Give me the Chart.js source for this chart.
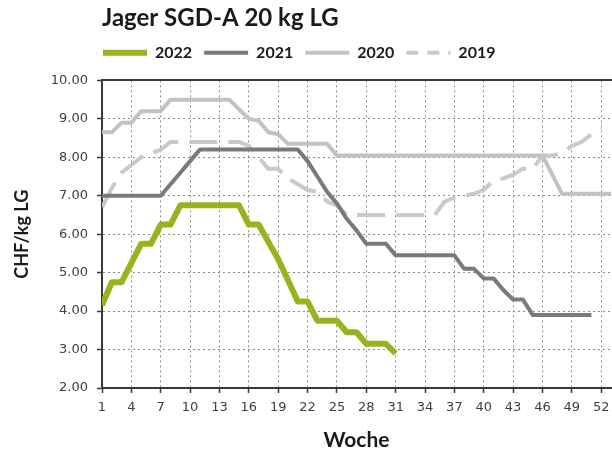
<!DOCTYPE html>
<html lang="de">
<head>
  <meta charset="UTF-8">
  <title>Jager SGD-A 20 kg LG</title>
  <script src="https://cdn.jsdelivr.net/npm/chart.js"></script>
  <style>
    html, body {
      margin: 0;
      padding: 0;
      background: #ffffff;
    }

    .chart-box {
      width: 612px;
      height: 457px;
    }
  </style>
</head>
<body>

  <div class="chart-box">
    <canvas id="preisChart"></canvas>
  </div>

  <script>
    // Kalenderwochen (2020 hatte 53 Wochen)
    const weeks = [1, 2, 3, 4, 5, 6, 7, 8, 9, 10, 11, 12, 13, 14, 15, 16, 17, 18, 19, 20,
      21, 22, 23, 24, 25, 26, 27, 28, 29, 30, 31, 32, 33, 34, 35, 36, 37, 38, 39, 40,
      41, 42, 43, 44, 45, 46, 47, 48, 49, 50, 51, 52, 53];
    const xTicks = [1, 4, 7, 10, 13, 16, 19, 22, 25, 28, 31, 34, 37, 40, 43, 46, 49, 52];
    const yTicks = [2, 3, 4, 5, 6, 7, 8, 9, 10];

    const jahre = ['2022', '2021', '2020', '2019'];

    // CHF/kg LG pro Woche
    const preis2022 = [4.15, 4.75, 4.75, 5.25, 5.75, 5.75, 6.25, 6.25, 6.75, 6.75,
      6.75, 6.75, 6.75, 6.75, 6.75, 6.25, 6.25, 5.8, 5.35, 4.8,
      4.25, 4.25, 3.75, 3.75, 3.75, 3.45, 3.45, 3.15, 3.15, 3.15,
      2.9];
    const preis2021 = [7.0, 7.0, 7.0, 7.0, 7.0, 7.0, 7.0, 7.3, 7.6, 7.9,
      8.2, 8.2, 8.2, 8.2, 8.2, 8.2, 8.2, 8.2, 8.2, 8.2,
      8.2, 7.9, 7.5, 7.1, 6.8, 6.4, 6.1, 5.75, 5.75, 5.75,
      5.45, 5.45, 5.45, 5.45, 5.45, 5.45, 5.45, 5.1, 5.1, 4.85,
      4.85, 4.55, 4.3, 4.3, 3.9, 3.9, 3.9, 3.9, 3.9, 3.9,
      3.9];
    const preis2020 = [8.65, 8.65, 8.9, 8.9, 9.2, 9.2, 9.2, 9.5, 9.5, 9.5,
      9.5, 9.5, 9.5, 9.5, 9.25, 9.0, 8.95, 8.65, 8.6, 8.35,
      8.35, 8.35, 8.35, 8.35, 8.05, 8.05, 8.05, 8.05, 8.05, 8.05,
      8.05, 8.05, 8.05, 8.05, 8.05, 8.05, 8.05, 8.05, 8.05, 8.05,
      8.05, 8.05, 8.05, 8.05, 8.05, 8.05, 7.55, 7.05, 7.05, 7.05,
      7.05, 7.05, 7.05];
    const preis2019 = [6.7, 7.2, 7.6, 7.8, 8.0, 8.1, 8.2, 8.4, 8.4, 8.4,
      8.4, 8.4, 8.4, 8.4, 8.4, 8.3, 8.0, 7.7, 7.7, 7.45,
      7.3, 7.15, 7.1, 6.85, 6.75, 6.5, 6.5, 6.5, 6.5, 6.5,
      6.5, 6.5, 6.5, 6.5, 6.5, 6.85, 6.95, 7.0, 7.05, 7.15,
      7.4, 7.45, 7.55, 7.7, 7.7, 8.05, 8.05, 8.1, 8.3, 8.4,
      8.6, 8.75];

    const farben = ['#96b41e', '#7a7a7a', '#c2c2c2', '#c9c9c9'];
    const axisColor = '#3a3a3a';
    const gridColor = '#8a8a8a';
    const tickFont = { family: 'DejaVu Sans', size: 13 };
    const boldFont = (size) => ({ family: 'Lato', size: size, weight: 'bold' });

    // Legende an der Plotkante ausrichten
    const legendShift = {
      id: 'legendShift',
      afterLayout(chart) {
        chart.legend.left -= 11;
        chart.legend.right -= 11;
      }
    };

    const ctx = document.getElementById('preisChart').getContext('2d');
    new Chart(ctx, {
      type: 'line',
      data: {
        labels: weeks,
        datasets: [
          { label: jahre[0], data: preis2022, borderColor: farben[0], backgroundColor: farben[0], borderWidth: 6 },
          { label: jahre[1], data: preis2021, borderColor: farben[1], backgroundColor: farben[1], borderWidth: 4 },
          { label: jahre[2], data: preis2020, borderColor: farben[2], backgroundColor: farben[2], borderWidth: 4 },
          { label: jahre[3], data: preis2019, borderColor: farben[3], backgroundColor: farben[3], borderWidth: 4, borderDash: [28, 11] }
        ]
      },
      options: {
        responsive: true,
        maintainAspectRatio: false,
        animation: false,
        devicePixelRatio: 1,
        layout: { padding: 0 },
        elements: {
          point: { radius: 0, hoverRadius: 0 },
          line: { tension: 0, borderJoinStyle: 'round', borderCapStyle: 'butt', fill: false }
        },
        scales: {
          x: {
            type: 'linear',
            min: 1,
            max: 53,
            afterBuildTicks: (axis) => { axis.ticks = xTicks.map(v => ({ value: v })); },
            afterFit: (axis) => { axis.height = 69; axis.paddingLeft = 0; axis.paddingRight = 1; },
            ticks: { font: tickFont, color: '#404040', padding: 7, autoSkip: false, maxRotation: 0 },
            grid: { color: gridColor, lineWidth: 1, tickLength: 5, tickColor: axisColor, tickWidth: 1.5 },
            border: { display: true, color: axisColor, width: 2, dash: [2, 3] },
            title: { display: true, text: 'Woche', color: '#1a1a1a', font: boldFont(21), padding: { top: 0, bottom: 4 } }
          },
          xTop: {
            type: 'linear',
            position: 'top',
            min: 1,
            max: 53,
            afterFit: (axis) => { axis.height = 9.6; axis.paddingLeft = 0; axis.paddingRight = 1; },
            ticks: { display: false },
            grid: { display: false, drawTicks: false },
            border: { display: true, color: axisColor, width: 2 }
          },
          y: {
            min: 2,
            max: 10,
            afterBuildTicks: (axis) => { axis.ticks = yTicks.map(v => ({ value: v })); },
            afterFit: (axis) => { axis.width = 102; },
            ticks: { font: tickFont, color: '#404040', padding: 9, callback: (v) => Number(v).toFixed(2) },
            grid: {
              color: (c) => (c.tick && c.tick.value === 10 ? 'rgba(0,0,0,0)' : gridColor),
              lineWidth: 1, tickLength: 5, tickColor: axisColor, tickWidth: 1.5
            },
            border: { display: true, color: axisColor, width: 2, dash: [2, 3] },
            title: { display: true, text: 'CHF/kg LG', color: '#1a1a1a', font: boldFont(18), padding: { top: 11, bottom: 0 } }
          }
        },
        plugins: {
          title: {
            display: true,
            text: 'Jager SGD-A 20 kg LG',
            align: 'start',
            fullSize: false,
            color: '#1a1a1a',
            font: boldFont(24),
            padding: { top: 4, bottom: 0 }
          },
          legend: {
            position: 'top',
            align: 'start',
            fullSize: false,
            labels: {
              usePointStyle: true,
              pointStyle: 'line',
              pointStyleWidth: 44,
              padding: 12,
              color: '#1a1a1a',
              font: boldFont(16),
              generateLabels: (chart) => {
                const items = Chart.defaults.plugins.legend.labels.generateLabels(chart);
                items.forEach(it => {
                  const ds = chart.data.datasets[it.datasetIndex];
                  if (ds.borderDash) it.lineDash = [12, 9];
                });
                return items;
              }
            }
          },
          tooltip: { enabled: false }
        }
      },
      plugins: [legendShift]
    });
  </script>

</body>
</html>
